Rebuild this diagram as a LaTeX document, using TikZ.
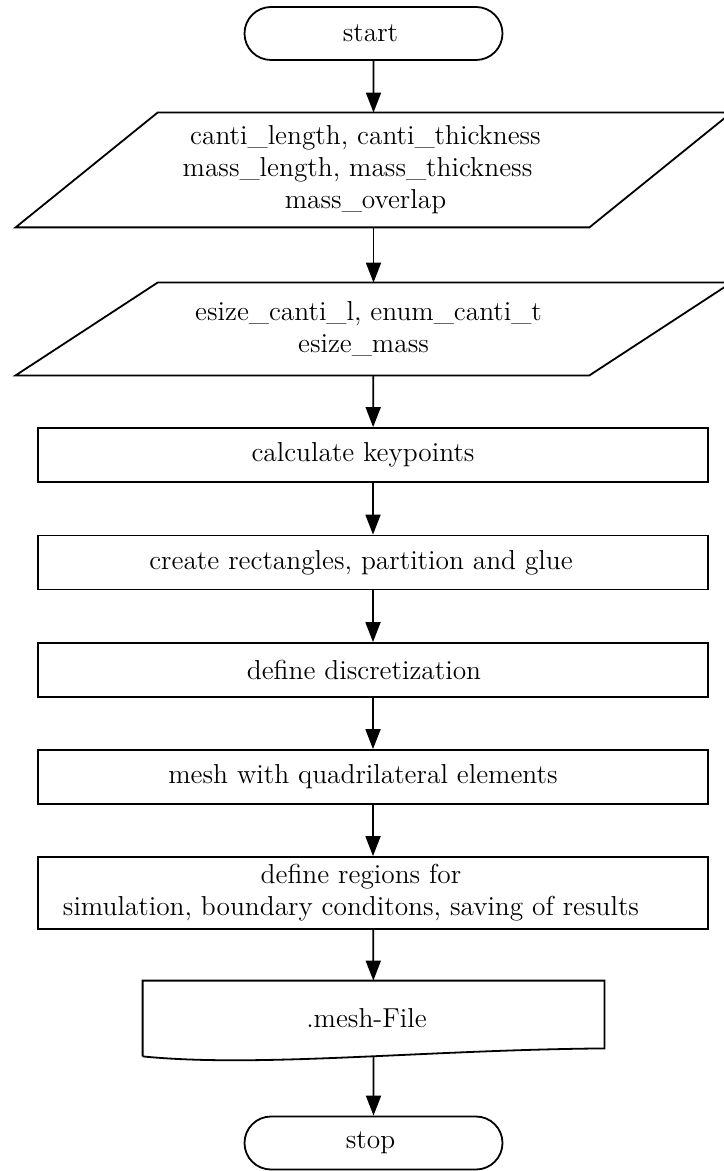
\documentclass[tikz,border=0pt]{standalone}
\usetikzlibrary{shapes.misc,arrows.meta}

\begin{document}
\begin{tikzpicture}[
  x=0.5pt, y=-0.5pt,
  every node/.style={font=\fontsize{13.7}{16}\selectfont},
  term/.style={rounded rectangle, draw, line width=0.9pt, minimum width=129pt, minimum height=26.5pt, inner sep=0pt},
  io/.style={rectangle, minimum width=286.5pt, inner sep=0pt, align=center},
  proc/.style={rectangle, draw, line width=0.9pt, minimum width=335pt, minimum height=27pt, inner sep=0pt, align=center},
  outline/.style={draw, line width=0.9pt, line join=miter},
  arrow/.style={-{Triangle[length=10pt,width=7.5pt]}, line width=0.9pt}
]
\useasboundingbox (0,0) rectangle (723,1171);

% labels sit a little left of centre, as in the original layout (trailing \kern)
\node[term] (start) at (373.5,33.5) {start\kern3pt};
\node[io, minimum height=57pt] (geom) at (373.5,170) {canti\_length, canti\_thickness\kern8pt\\mass\_length, mass\_thickness\kern16pt\\mass\_overlap\kern8pt};
\node[io, minimum height=46pt] (esize) at (373.5,329) {esize\_canti\_l, enum\_canti\_t\kern5pt\\esize\_mass\kern10pt};
\node[proc] (keypts) at (373,455) {calculate keypoints\kern10pt};
\node[proc] (rects) at (373,562.5) {create rectangles, partition and glue\kern12pt};
\node[proc] (discr) at (373,670) {define discretization\kern9pt};
\node[proc] (mesh) at (373,777) {mesh with quadrilateral elements\kern10pt};
\node[proc, minimum height=36pt] (regions) at (373,893) {define regions for\kern12pt\\simulation, boundary conditons, saving of results\kern22pt};
\node[rectangle, minimum width=230.5pt, minimum height=37.5pt, inner sep=0pt] (file) at (373.5,1018.5) {.mesh-File\kern7pt};
\node[term] (stop) at (373.5,1143) {stop\kern3pt};

% input parallelograms
\draw[outline] ([xshift=-35.5pt]geom.south west) -- ([xshift=-35.5pt]geom.south east)
  -- ([xshift=35.5pt]geom.north east) -- ([xshift=35.5pt]geom.north west) -- cycle;
\draw[outline] ([xshift=-35.5pt]esize.south west) -- ([xshift=-35.5pt]esize.south east)
  -- ([xshift=35.5pt]esize.north east) -- ([xshift=35.5pt]esize.north west) -- cycle;
% document shape
\draw[outline] (file.south west) -- (file.north west) -- (file.north east) -- ([yshift=4pt]file.south east)
  .. controls (420,1050) and (260,1068) .. (file.south west);

\draw[arrow] (start) -- (geom);
\draw[arrow] (geom) -- (esize);
\draw[arrow] (esize) -- (keypts);
\draw[arrow] (keypts) -- (rects);
\draw[arrow] (rects) -- (discr);
\draw[arrow] (discr) -- (mesh);
\draw[arrow] (mesh) -- (regions);
\draw[arrow] (regions) -- (file);
\draw[arrow] (file) -- (stop);
\end{tikzpicture}
\end{document}
